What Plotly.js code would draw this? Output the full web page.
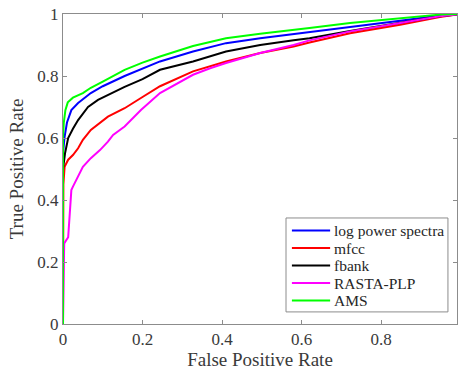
<!DOCTYPE html>
<html>
<head>
<meta charset="utf-8">
<script src="https://cdn.plot.ly/plotly-3.0.1.min.js"></script>
<style>html,body{margin:0;padding:0;background:#fff;}#chart{width:458px;height:375px;}
#fl{position:absolute;left:0;top:0;font-family:'Liberation Serif';font-size:14px;color:#fff;opacity:0.01;}</style>
</head>
<body>
<span id="fl">Ag0.8</span>
<div id="chart"></div>
<script>
var seriesNames = ["log power spectra", "mfcc", "fbank", "RASTA-PLP", "AMS"];
var seriesColors = ["#0000ff", "#ff0000", "#000000", "#ff00ff", "#00ff00"];

var lpsX = [0, 0, 0.004, 0.01, 0.021, 0.038, 0.07, 0.1, 0.155, 0.2, 0.244, 0.327, 0.41, 0.496, 0.58, 0.62, 0.722, 0.848, 0.948, 1];
var lpsY = [0, 0.55, 0.604, 0.65, 0.69, 0.713, 0.745, 0.767, 0.80, 0.825, 0.847, 0.879, 0.906, 0.922, 0.935, 0.942, 0.957, 0.978, 0.995, 1];

var mfccX = [0, 0, 0.001, 0.004, 0.013, 0.025, 0.038, 0.05, 0.07, 0.113, 0.155, 0.196, 0.244, 0.327, 0.41, 0.496, 0.58, 0.62, 0.722, 0.848, 0.948, 1];
var mfccY = [0, 0.38, 0.45, 0.507, 0.53, 0.545, 0.567, 0.594, 0.626, 0.669, 0.696, 0.729, 0.767, 0.815, 0.847, 0.874, 0.895, 0.908, 0.938, 0.965, 0.99, 1];

var fbankX = [0, 0, 0.005, 0.013, 0.025, 0.038, 0.063, 0.088, 0.155, 0.2, 0.244, 0.327, 0.41, 0.496, 0.58, 0.62, 0.722, 0.848, 0.948, 1];
var fbankY = [0, 0.5, 0.55, 0.6, 0.63, 0.658, 0.70, 0.723, 0.765, 0.79, 0.82, 0.847, 0.879, 0.90, 0.915, 0.922, 0.945, 0.971, 0.993, 1];

var rastaX = [0, 0.002, 0.003, 0.013, 0.015, 0.018, 0.021, 0.025, 0.038, 0.05, 0.07, 0.093, 0.113, 0.126, 0.155, 0.196, 0.244, 0.327, 0.37, 0.41, 0.496, 0.58, 0.62, 0.722, 0.848, 0.948, 1];
var rastaY = [0, 0.2, 0.26, 0.28, 0.325, 0.378, 0.432, 0.443, 0.475, 0.507, 0.535, 0.561, 0.588, 0.61, 0.637, 0.69, 0.745, 0.804, 0.825, 0.842, 0.874, 0.90, 0.915, 0.944, 0.971, 0.993, 1];

var amsX = [0, 0, 0.002, 0.006, 0.012, 0.025, 0.05, 0.07, 0.1, 0.155, 0.2, 0.244, 0.327, 0.41, 0.496, 0.58, 0.62, 0.722, 0.848, 0.948, 1];
var amsY = [0, 0.6, 0.65, 0.69, 0.715, 0.73, 0.745, 0.762, 0.782, 0.82, 0.843, 0.863, 0.897, 0.922, 0.936, 0.95, 0.955, 0.971, 0.987, 0.998, 1];

var xTickVals = [0, 0.2, 0.4, 0.6, 0.8];
var xTickText = ["0", "0.2", "0.4", "0.6", "0.8"];
var yTickVals = [0, 0.2, 0.4, 0.6, 0.8, 1];
var yTickText = ["0", "0.2", "0.4", "0.6", "0.8", "1"];

var xs = [lpsX, mfccX, fbankX, rastaX, amsX];
var ys = [lpsY, mfccY, fbankY, rastaY, amsY];

var traces = seriesNames.map(function (n, i) {
  return {
    x: xs[i], y: ys[i], name: n, type: "scatter", mode: "lines",
    line: {color: seriesColors[i], width: 2}, hoverinfo: "skip", showlegend: false
  };
});

var fontFam = "Liberation Serif";
var textColor = "#3a3a3a";
var gridGrey = "#8c8c8c";

// Legend box (drawn in paper coordinates)
var legBox = {x0: 0.566, x1: 0.977, y0: 0.039, y1: 0.342};
var legRow0 = 0.3016, legRowStep = 0.05645;
var legLineX0 = 0.581, legLineX1 = 0.678, legTextX = 0.684;

var shapes = [{
  type: "rect", xref: "paper", yref: "paper",
  x0: legBox.x0, x1: legBox.x1, y0: legBox.y0, y1: legBox.y1,
  line: {color: gridGrey, width: 1}, fillcolor: "#ffffff", layer: "above"
}];
var annotations = [];
seriesNames.forEach(function (n, i) {
  var yy = legRow0 - i * legRowStep;
  shapes.push({
    type: "line", xref: "paper", yref: "paper",
    x0: legLineX0, x1: legLineX1, y0: yy, y1: yy,
    line: {color: seriesColors[i], width: 2}, layer: "above"
  });
  annotations.push({
    xref: "paper", yref: "paper", x: legTextX, y: yy,
    xanchor: "left", yanchor: "middle", showarrow: false, text: n,
    font: {family: fontFam, size: 15.5, color: "#262626"}
  });
});

var axisCommon = {
  showgrid: false, zeroline: false, showline: true, linecolor: gridGrey, linewidth: 1,
  mirror: "ticks", ticks: "inside", ticklen: 4, tickcolor: gridGrey, tickwidth: 1,
  tickfont: {family: fontFam, size: 17, color: textColor}, fixedrange: true
};

var layout = {
  width: 458, height: 375,
  margin: {l: 63, r: 1, t: 14, b: 51, pad: 0},
  paper_bgcolor: "#ffffff", plot_bgcolor: "#ffffff",
  font: {family: fontFam, color: textColor},
  showlegend: false,
  xaxis: Object.assign({}, axisCommon, {
    range: [0, 0.991], tickvals: xTickVals, ticktext: xTickText,
    title: {text: "False Positive Rate", font: {family: fontFam, size: 19, color: textColor}, standoff: 3}
  }),
  yaxis: Object.assign({}, axisCommon, {
    range: [0, 1], tickvals: yTickVals, ticktext: yTickText,
    title: {text: "True Positive Rate", font: {family: fontFam, size: 19, color: textColor}, standoff: 8}
  }),
  shapes: shapes,
  annotations: annotations
};

function draw() {
  Plotly.newPlot("chart", traces, layout, {displayModeBar: false, staticPlot: true});
}
if (document.fonts && document.fonts.load) {
  document.fonts.load('16px "Liberation Serif"').then(draw, draw);
} else {
  draw();
}
</script>
</body>
</html>
